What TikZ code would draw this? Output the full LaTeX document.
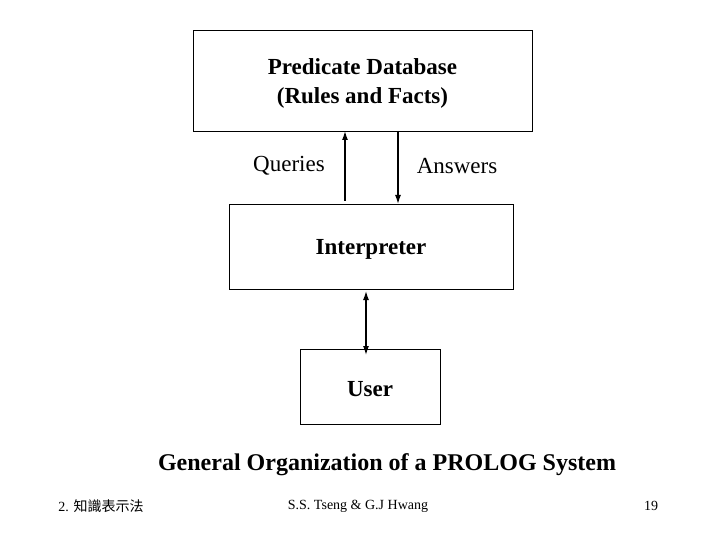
\documentclass[tikz,border=0pt]{standalone}
\usepackage{fontspec}
\usetikzlibrary{arrows.meta}
\setmainfont{Liberation Serif}
\newfontfamily\cjk{Noto Sans CJK TC}
\begin{document}
\begin{tikzpicture}[x=1pt,y=-1pt,
  box/.style={draw,line width=0.8pt,inner sep=0pt},
  bt/.style={font=\bfseries\fontsize{23}{29}\selectfont},
  lbl/.style={font=\fontsize{23}{28}\selectfont},
  arr/.style={line width=1.3pt,-{Latex[length=9pt,width=6pt]}}]
\useasboundingbox (0,0) rectangle (720,540);
\node[box,minimum width=339pt,minimum height=101pt,bt,align=center] (db) at (362.5,80.5) {};
\node[bt,align=center] (dbt) at (362.5,83) {Predicate Database\\(Rules and Facts)};
\node[box,minimum width=284pt,minimum height=85pt] (int) at (371,246.5) {};
\node[bt] (intt) at (371,249) {Interpreter};
\node[box,minimum width=140pt,minimum height=75pt] (user) at (370,386.5) {};
\node[bt] (usert) at (370,389) {User};
\coordinate (qb) at (345,201);
\coordinate (qt) at (345,131);
\coordinate (at) at (398,131);
\coordinate (ab) at (398,204);
\coordinate (ut) at (366,291);
\coordinate (ub) at (366,355);
\draw[arr] (qb) -- (qt);
\draw[arr] (at) -- (ab);
\draw[line width=1.3pt,{Latex[length=9pt,width=6pt]}-{Latex[length=9pt,width=6pt]}] (ut) -- (ub);
\node[lbl] (q) at (289,166) {Queries};
\node[lbl] (a) at (457,166) {Answers};
\node[font=\bfseries\fontsize{24}{28}\selectfont] (title) at (387,465) {General Organization of a PROLOG System};
\node[font=\fontsize{14}{16}\selectfont] (f1) at (101,506) {2. {\cjk 知識表示法}};
\node[font=\fontsize{14}{16}\selectfont] (f2) at (358,506) {S.S. Tseng \& G.J Hwang};
\node[font=\fontsize{14}{16}\selectfont] (f3) at (651,506) {19};
\end{tikzpicture}
\end{document}
